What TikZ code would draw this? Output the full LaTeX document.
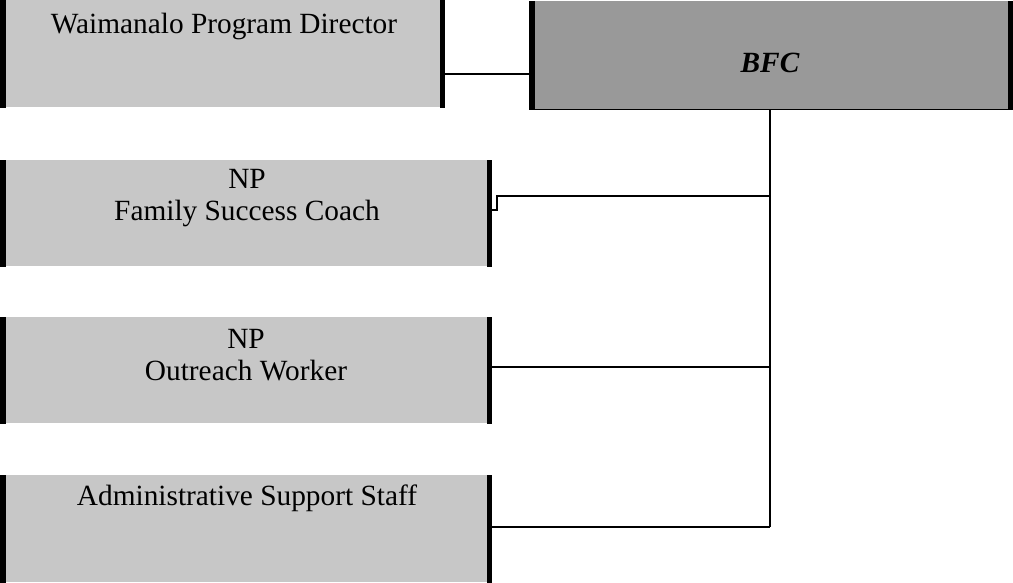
\documentclass[tikz,border=0pt]{standalone}
\usepackage{fontspec}
\setmainfont{Liberation Serif}
\begin{document}
\begin{tikzpicture}[x=0.75pt,y=-0.75pt,
  lightbox/.style={fill=black!22, draw=none, anchor=north west, inner sep=0pt},
  darkbox/.style={fill=black!40, draw=none, anchor=north west, inner sep=0pt},
  sidebar/.style={line width=3.8pt, black},
  boxtext/.style={font=\fontsize{22pt}{24pt}\selectfont, align=center, anchor=base, inner sep=0pt},
  link/.style={line width=1.3pt, black}]
\useasboundingbox (0,0) rectangle (1013,582);

% boxes
\node[lightbox, minimum width=439*0.75pt, minimum height=107*0.75pt] (dir) at (3,0) {};
\node[darkbox, minimum width=478*0.75pt, minimum height=108*0.75pt] (bfc) at (532,1) {};
\node[lightbox, minimum width=486*0.75pt, minimum height=106*0.75pt] (fsc) at (3,160) {};
\node[lightbox, minimum width=486*0.75pt, minimum height=106*0.75pt] (out) at (3,317) {};
\node[lightbox, minimum width=486*0.75pt, minimum height=107*0.75pt] (adm) at (3,475) {};

% thick side rules
\foreach \b in {dir,bfc,fsc,out,adm}{
  \draw[sidebar] (\b.north west) -- (\b.south west);
  \draw[sidebar] (\b.north east) -- (\b.south east);
}
\draw[line width=1.2pt] (bfc.south west) -- (bfc.south east);

% labels (base anchor sits on the last line)
\node[boxtext] (dirtext) at (224,33) {Waimanalo Program Director};
\node[boxtext, font=\fontsize{22pt}{24pt}\selectfont\bfseries\itshape] (bfctext) at (770,72) {BFC};
\node[boxtext] (fsctext) at (247,220) {NP\\Family Success Coach};
\node[boxtext] (outtext) at (246,380) {NP\\Outreach Worker};
\node[boxtext] (admtext) at (247,505) {Administrative Support Staff};

% connectors
\coordinate (trunktop) at (770,109);
\coordinate (trunkbot) at (770,527);
\coordinate (fscA) at (497,210);
\coordinate (fscB) at (497,196);
\coordinate (outJ) at (770,367);
\draw[link] (dir.east |- 0,74) -- (bfc.west |- 0,74);
\draw[link] (trunktop) -- (trunkbot);
\draw[link] (fsc.east |- fscA) -- (fscA) -- (fscB) -- (fscB -| trunktop);
\draw[link] (out.east |- outJ) -- (outJ);
\draw[link] (adm.east |- trunkbot) -- (trunkbot);
\end{tikzpicture}
\end{document}
